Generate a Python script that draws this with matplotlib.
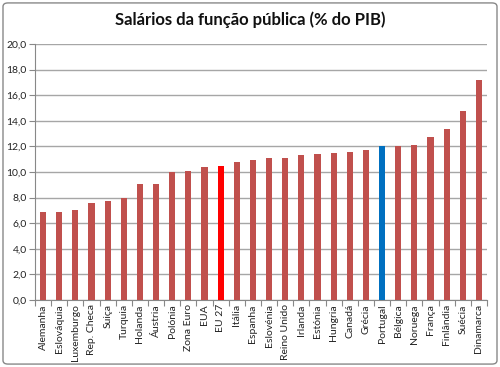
import matplotlib
matplotlib.use("Agg")
import matplotlib.pyplot as plt
from matplotlib.patches import FancyBboxPatch
import numpy as np

countries = ["Alemanha", "Eslováquia", "Luxemburgo", "Rep. Checa", "Suiça", "Turquia",
             "Holanda", "Áustria", "Polónia", "Zona Euro", "EUA", "EU 27", "Itália",
             "Espanha", "Eslovénia", "Reino Unido", "Irlanda", "Estónia", "Hungria",
             "Canadá", "Grécia", "Portugal", "Bélgica", "Noruega", "França",
             "Finlândia", "Suécia", "Dinamarca"]
values = [6.9, 6.9, 7.0, 7.6, 7.7, 8.0, 9.1, 9.1, 10.0, 10.1, 10.4, 10.5, 10.8,
          10.9, 11.1, 11.1, 11.3, 11.4, 11.5, 11.6, 11.7, 12.0, 12.0, 12.1, 12.7,
          13.4, 14.8, 17.2]
yticks = [0, 2, 4, 6, 8, 10, 12, 14, 16, 18, 20]
title = "Salários da função pública (% do PIB)"

plt.rcParams['font.family'] = ['Lato', 'DejaVu Sans']

colors = []
for c in countries:
    if c == "EU 27":
        colors.append("#FF0000")
    elif c == "Portugal":
        colors.append("#0070C0")
    else:
        colors.append("#C0504D")

fig = plt.figure(figsize=(5.0, 3.67), dpi=100)
ax = fig.add_axes([0.07, 0.1826, 0.904, 0.6974])
x = np.arange(len(countries))
ax.bar(x, values, width=0.38, color=colors, zorder=3)
ax.set_xlim(-0.5, len(countries) - 0.5)
ax.set_ylim(0, 20)
ax.set_yticks(yticks)
ax.set_yticklabels([f"{v:.1f}".replace(".", ",") for v in yticks], fontsize=7.5, color="#222222")
ax.yaxis.grid(True, color="#A6A6A6", linewidth=1, zorder=0)
ax.set_xticks(x)
ax.set_xticklabels(countries, rotation=90, fontsize=7.5, color="#222222")
ax.tick_params(axis='x', which='major', length=0, pad=3)
ax.set_xticks(np.arange(-0.5, len(countries), 1), minor=True)
ax.tick_params(axis='x', which='minor', length=4, color="#888888", width=0.8)
ax.tick_params(axis='y', length=4, color="#888888", width=0.8, pad=2)
for s in ["top", "right"]:
    ax.spines[s].set_visible(False)
for s in ["left", "bottom"]:
    ax.spines[s].set_color("#888888")
    ax.spines[s].set_linewidth(0.8)

fig.text(0.5, 0.945, title, ha="center", va="center", fontsize=12, fontweight="bold", color="#111111")

border = FancyBboxPatch((0.006, 0.008), 0.988, 0.984, boxstyle="round,pad=0,rounding_size=0.01",
                        transform=fig.transFigure, fill=False, edgecolor="#888888", linewidth=1)
fig.patches.append(border)

fig.savefig("out.png", dpi=100)
